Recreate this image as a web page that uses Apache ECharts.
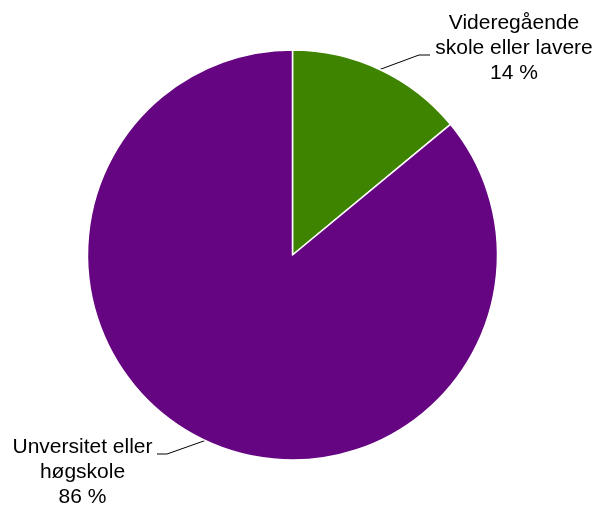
<!DOCTYPE html>
<html>
<head>
<meta charset="utf-8">
<script src="https://cdn.jsdelivr.net/npm/echarts@6/dist/echarts.min.js"></script>
<style>
html,body{margin:0;padding:0;background:#fff;}
#chart{width:597px;height:506px;}
</style>
</head>
<body>
<div id="chart"></div>
<script>
var categories = ['Videregående\nskole eller lavere', 'Unversitet eller\nhøgskole'];
var values = [14, 86];
var colors = ['#3f8400', '#660582'];

var chart = echarts.init(document.getElementById('chart'), null, {renderer: 'canvas'});

var labelSpots = [
  {x: 514, y: 48, mid: [419, 55], end: [430, 55]},
  {x: 82.5, y: 472, mid: [167, 454], end: [157, 454]}
];

var option = {
  animation: false,
  backgroundColor: '#ffffff',
  series: [{
    type: 'pie',
    center: [292.5, 255],
    radius: [0, 205],
    startAngle: 90,
    clockwise: true,
    data: categories.map(function (c, i) {
      return {name: c, value: values[i], itemStyle: {color: colors[i]}};
    }),
    itemStyle: {borderColor: '#ffffff', borderWidth: 1.5},
    label: {
      show: true,
      position: 'outside',
      formatter: '{b}\n{c} %',
      fontFamily: 'Liberation Sans, Arial, sans-serif',
      fontSize: 21,
      lineHeight: 25,
      color: '#000000',
      align: 'center'
    },
    labelLine: {
      show: true,
      length: 15,
      length2: 10,
      lineStyle: {color: '#000000', width: 1}
    },
    emphasis: {disabled: true},
    labelLayout: function (params) {
      var s = labelSpots[params.dataIndex];
      var pts = params.labelLinePoints;
      var edge = pts ? pts[0] : s.mid;
      return {
        x: s.x,
        y: s.y,
        align: 'center',
        verticalAlign: 'middle',
        labelLinePoints: [edge, s.mid, s.end]
      };
    }
  }]
};
chart.setOption(option);
</script>
</body>
</html>
